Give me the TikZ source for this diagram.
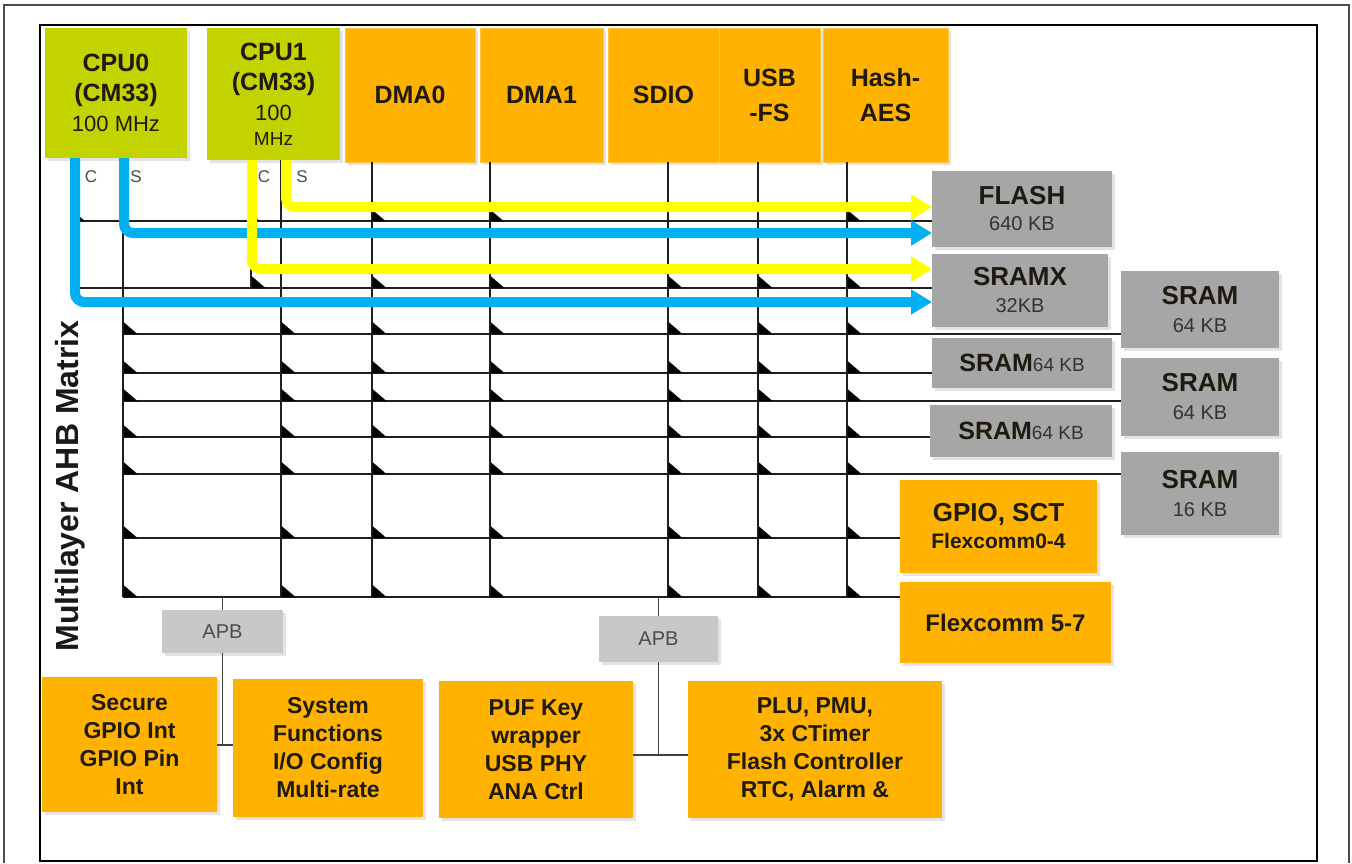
\documentclass[tikz,border=0pt]{standalone}
\usepackage{fontspec}
\setmainfont{Liberation Sans}
\usetikzlibrary{arrows.meta,shadows,calc}
\definecolor{orn}{HTML}{FFB300}
\definecolor{grn}{HTML}{C2D300}
\definecolor{gry}{HTML}{A6A6A6}
\definecolor{apbg}{HTML}{C8C8C8}
\definecolor{busb}{HTML}{00B0F0}
\definecolor{busy}{HTML}{FFFF00}
\definecolor{txt}{HTML}{1F1A10}
\newcommand\tbig{\fontsize{25}{30}\selectfont\bfseries}
\newcommand\tsub{\fontsize{20}{24}\selectfont\mdseries}
\newcommand\tbot{\fontsize{23}{28}\selectfont\bfseries}
\begin{document}
\begin{tikzpicture}[x=1pt,y=-1pt]
\tikzset{
  bx/.style={inner sep=0pt, outer sep=0pt, align=center, text=txt, anchor=north west,
    drop shadow={shadow xshift=2.5pt, shadow yshift=-2.5pt, opacity=0.22}},
  obx/.style={bx, fill=orn},
  mbx/.style={obx, draw=orn!75!white, line width=1pt},
  gbx/.style={bx, fill=gry},
  cbx/.style={bx, fill=grn},
  abx/.style={bx, fill=apbg, text=black!70, font=\fontsize{20}{24}\selectfont},
  gridln/.style={draw=black!88, line width=1.5pt},
  apbln/.style={draw=black!75, line width=1.5pt},
  busbase/.style={line width=10pt, rounded corners=9pt, -{Triangle[length=21pt,width=24pt]}},
  bbus/.style={busbase, draw=busb, color=busb},
  ybus/.style={busbase, draw=busy, color=busy},
  lbl/.style={inner sep=0pt, text=black!70, font=\fontsize{17}{20}\selectfont},
  swmark/.style={fill=black, draw=none}
}
\useasboundingbox (0,0) rectangle (1352,863);
\fill[white] (0,0) rectangle (1352,863);
% frames
\draw[line width=2pt, black!70] (4,863) -- (4,5) -- (1349,5) -- (1349,863);
\draw[line width=2.2pt, black] (40,25) rectangle (1317,861);

% coordinates for bus columns and rows
\coordinate (xc0C) at (75,0);
\coordinate (xc0S) at (123,0);
\coordinate (xc1C) at (251,0);
\coordinate (xc1S) at (281,0);
\coordinate (xd0) at (372,0);
\coordinate (xd1) at (490,0);
\coordinate (xsd) at (668,0);
\coordinate (xus) at (758,0);
\coordinate (xha) at (847,0);
\coordinate (r1) at (0,221);
\coordinate (r2) at (0,288);
\coordinate (r3) at (0,334);
\coordinate (r4) at (0,373);
\coordinate (r5) at (0,401);
\coordinate (r6) at (0,437);
\coordinate (r7) at (0,474);
\coordinate (r8) at (0,538);
\coordinate (r9) at (0,597);
\coordinate (xa1) at (286,0);
\coordinate (xb1) at (124,0);
\coordinate (xa2) at (252,0);
\coordinate (xb2) at (75,0);
\coordinate (ya1) at (0,207);
\coordinate (yb1) at (0,233);
\coordinate (ya2) at (0,269);
\coordinate (yb2) at (0,302);
\coordinate (j1) at (0,745);
\coordinate (j2) at (0,755);

% masters
\node[cbx, minimum width=142pt, minimum height=130pt, font=\tbig] (cpu0) at (45,28)
  {CPU0\\(CM33)\\{\fontsize{22}{26}\selectfont\mdseries 100 MHz}};
\node[cbx, minimum width=133pt, minimum height=132pt, font=\tbig] (cpu1) at (207,28)
  {CPU1\\(CM33)\\{\fontsize{22}{26}\selectfont\mdseries 100}\\[-5pt]{\fontsize{19}{22}\selectfont\mdseries MHz}};
\node[mbx, minimum width=130pt, minimum height=134pt, font=\tbig] (dma0) at (345,28) {DMA0};
\node[mbx, minimum width=123pt, minimum height=134pt, font=\tbig] (dma1) at (480,28) {DMA1};
\node[mbx, minimum width=111pt, minimum height=134pt, font=\tbig] (sdio) at (608,28) {SDIO};
\node[mbx, minimum width=101pt, minimum height=134pt, font=\fontsize{25}{35}\selectfont\bfseries] (usb) at (719,28) {USB\\-FS};
\node[mbx, minimum width=125pt, minimum height=134pt, font=\fontsize{25}{35}\selectfont\bfseries] (hash) at (823,28) {Hash-\\AES};

% slaves
\node[gbx, minimum width=180pt, minimum height=76pt, font=\fontsize{26}{26}\selectfont\bfseries] (flash) at (932,171)
  {FLASH\\{\tsub\color{black!80}640 KB}};
\node[gbx, minimum width=176pt, minimum height=73pt, font=\fontsize{26}{27}\selectfont\bfseries] (sramx) at (932,254)
  {SRAMX\\{\tsub\color{black!80}32KB}};
\node[gbx, minimum width=158pt, minimum height=77pt, font=\fontsize{26}{28}\selectfont\bfseries] (sramR1) at (1121,271)
  {SRAM\\{\tsub\color{black!80}64 KB}};
\node[gbx, minimum width=180pt, minimum height=50pt, font=\fontsize{25}{28}\selectfont\bfseries] (sramL1) at (932,338)
  {SRAM{\fontsize{19}{22}\selectfont\mdseries\color{black!80}64 KB}};
\node[gbx, minimum width=158pt, minimum height=78pt, font=\fontsize{26}{28}\selectfont\bfseries] (sramR2) at (1121,358)
  {SRAM\\{\tsub\color{black!80}64 KB}};
\node[gbx, minimum width=182pt, minimum height=52pt, font=\fontsize{25}{28}\selectfont\bfseries] (sramL2) at (930,405)
  {SRAM{\fontsize{19}{22}\selectfont\mdseries\color{black!80}64 KB}};
\node[gbx, minimum width=158pt, minimum height=83pt, font=\fontsize{26}{28}\selectfont\bfseries] (sramR3) at (1121,452)
  {SRAM\\{\tsub\color{black!80}16 KB}};
\node[obx, minimum width=197pt, minimum height=93pt, font=\fontsize{26}{27}\selectfont\bfseries] (gpio) at (900,480)
  {GPIO, SCT\\{\fontsize{21}{24}\selectfont Flexcomm0-4}};
\node[obx, minimum width=211pt, minimum height=81pt, font=\fontsize{24}{28}\selectfont\bfseries] (flex) at (900,582)
  {Flexcomm 5-7};

% APB bridges and peripherals
\node[abx, minimum width=121pt, minimum height=43pt] (apb1) at (162,610) {APB};
\node[abx, minimum width=119pt, minimum height=46pt] (apb2) at (599,616) {APB};
\node[obx, minimum width=175pt, minimum height=135pt, font=\tbot] (secure) at (42,677)
  {Secure\\GPIO Int\\GPIO Pin\\Int};
\node[obx, minimum width=190pt, minimum height=138pt, font=\tbot] (sysf) at (233,679)
  {System\\Functions\\I/O Config\\Multi-rate};
\node[obx, minimum width=194pt, minimum height=137pt, font=\tbot] (puf) at (439,681)
  {PUF Key\\wrapper\\USB PHY\\ANA Ctrl};
\node[obx, minimum width=254pt, minimum height=137pt, font=\tbot] (plu) at (688,681)
  {PLU, PMU,\\3x CTimer\\Flash Controller\\RTC, Alarm \&};

% matrix label
\node[rotate=90, inner sep=0pt, text=black!90, font=\fontsize{32}{36}\selectfont\bfseries] (mlabel) at (70,486) {Multilayer AHB Matrix};

% column lines
\draw[gridln] (cpu0.south -| xc0C) -- (r2 -| xc0C);
\draw[gridln] (cpu0.south -| xc0S) -- (r9 -| xc0S);
\draw[gridln] (cpu1.south -| xc1C) -- (r2 -| xc1C);
\draw[gridln] (cpu1.south -| xc1S) -- (r9 -| xc1S);
\draw[gridln] (dma0.south -| xd0) -- (r9 -| xd0);
\draw[gridln] (dma1.south -| xd1) -- (r9 -| xd1);
\draw[gridln] (sdio.south -| xsd) -- (r9 -| xsd);
\draw[gridln] (usb.south -| xus) -- (r9 -| xus);
\draw[gridln] (hash.south -| xha) -- (r9 -| xha);

% row lines
\draw[gridln] (r1 -| xc0C) -- (r1 -| flash.west);
\draw[gridln] (r2 -| xc0C) -- (r2 -| sramx.west);
\draw[gridln] (r3 -| xc0S) -- (r3 -| sramR1.west);
\draw[gridln] (r4 -| xc0S) -- (r4 -| sramL1.west);
\draw[gridln] (r5 -| xc0S) -- (r5 -| sramR2.west);
\draw[gridln] (r6 -| xc0S) -- (r6 -| sramL2.west);
\draw[gridln] (r7 -| xc0S) -- (r7 -| sramR3.west);
\draw[gridln] (r8 -| xc0S) -- (r8 -| gpio.west);
\draw[gridln] (r9 -| xc0S) -- (r9 -| flex.west);

% switch marks (small black right triangles above each crossing)
\foreach \c in {xd0,xd1,xha}
  \fill[swmark] ($(r1 -| \c)+(0.5,0)$) -- ++(0,-11) -- ++(13,11) -- cycle;
\fill[swmark] ($(r1 -| xc1C)+(0.5,0)$) -- ++(0,-7) -- ++(8,7) -- cycle;
\foreach \c in {xc1C,xd0,xd1,xsd,xus,xha}
  \fill[swmark] ($(r2 -| \c)+(0.5,0)$) -- ++(0,-12) -- ++(14,12) -- cycle;
\fill[swmark] ($(r1 -| xc0C)+(5,0)$) -- ++(0,-4) -- ++(5,4) -- cycle;
\foreach \r in {r3,r4,r5,r6,r7,r8,r9}
  \foreach \c in {xc0S,xc1S,xd0,xd1,xsd,xus,xha}
    \fill[swmark] ($(\r -| \c)+(0.5,0)$) -- ++(0,-12) -- ++(14,12) -- cycle;

% APB connections
\draw[apbln] (r9 -| apb1.north) -- (apb1.north);
\draw[apbln] (apb1.south) -- (apb1.south |- j1);
\draw[apbln] (secure.east |- j1) -- (sysf.west |- j1);
\draw[apbln] (r9 -| apb2.north) -- (apb2.north);
\draw[apbln] (apb2.south) -- (apb2.south |- j2);
\draw[apbln] (puf.east |- j2) -- (plu.west |- j2);

% CPU buses
\draw[bbus] (cpu0.south -| xb2) |- (yb2 -| sramx.west);
\draw[bbus] (cpu0.south -| xb1) |- (yb1 -| flash.west);
\draw[ybus] (cpu1.south -| xa2) |- (ya2 -| sramx.west);
\draw[ybus] (cpu1.south -| xa1) |- (ya1 -| flash.west);

% bus labels
\node[lbl] (lc0) at (91,177) {C};
\node[lbl] (ls0) at (136,177) {S};
\node[lbl] (lc1) at (264,177) {C};
\node[lbl] (ls1) at (302,177) {S};
\end{tikzpicture}
\end{document}
